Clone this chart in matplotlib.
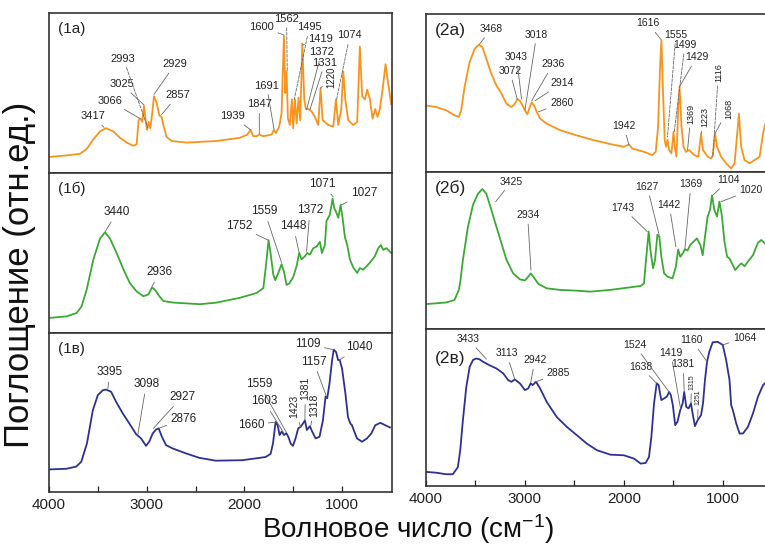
import matplotlib
matplotlib.use("Agg")
import matplotlib.pyplot as plt

plt.rcParams['font.family'] = ['Liberation Sans', 'DejaVu Sans']
plt.rcParams['mathtext.fontset'] = 'custom'
plt.rcParams['mathtext.rm'] = 'Liberation Sans'
plt.rcParams['mathtext.it'] = 'Liberation Sans:italic'

# ---------------- data: (wavenumber cm^-1, relative absorbance 0..100) ----------------
SPEC_1A = [(4000,10),(3820,11),(3683,12),(3615,15),(3546,21),(3478,26),(3417,28),(3342,26),(3274,22),(3205,19),
           (3137,17),(3103,18),(3083,33),(3062,34),(3045,32),(3028,42),(3011,33),(2997,27),(2980,32),(2963,28),
           (2946,36),(2926,48),(2899,44),(2871,36),(2847,35),(2830,30),(2796,22.5),(2745,20),(2592,19),(2285,20),
           (2046,22),(1971,24),(1937,27),(1910,23),(1876,23),(1848,24),(1807,23),(1722,24),(1698,27),(1678,25),
           (1644,29),(1620,37.5),(1596,86),(1582,50),(1569,63.5),(1555,34),(1535,30),(1514,46),(1501,28),(1483,46),
           (1466,31),(1446,47),(1429,33),(1408,81),(1388,46),(1371,40),(1344,40),(1313,38.5),(1279,35),(1245,30),
           (1221,53),(1200,33),(1142,30),(1091,29),(1064,46),(1040,30),(1009,40),(989,63.5),(968,46),(938,33),
           (887,30),(846,32),(819,79),(795,48),(767,46),(744,52),(716,46),(689,34),(662,40),(638,35),
           (614,40),(587,52),(556,68),(529,56),(498,43)]

SPEC_1B = [(4000,9.4),(3819,10.4),(3717,12.5),(3666,16.7),(3615,27),(3546,46),(3478,59),(3427,63),(3376,59),(3308,50),
           (3240,40),(3171,31),(3103,26),(3035,23),(2984,24),(2946,28.5),(2916,27),(2871,23),(2830,20),(2728,19),
           (2455,18),(2285,19),(2046,22),(1876,25),(1807,28),(1780,42),(1753,58),(1733,50),(1705,36.5),(1685,33),
           (1654,37.5),(1620,43),(1596,38.5),(1569,30),(1541,31),(1500,35),(1466,42),(1439,50),(1415,46),(1381,48),
           (1357,50),(1330,49),(1296,53),(1262,54),(1228,57),(1207,50),(1177,55),(1160,70),(1126,74),(1098,84),
           (1081,78),(1064,76),(1040,72),(1016,80),(996,72),(972,60),(948,55),(921,46),(887,41),(846,37.5),
           (819,40.6),(785,39.6),(750,41.7),(716,44),(665,48),(631,53),(604,55),(580,52),(546,53),(498,50)]

SPEC_1C = [(4000,14.2),(3823,14.6),(3721,16),(3670,19),(3612,30.5),(3551,51.5),(3500,61),(3449,64),(3415,64.4),(3364,63),
           (3313,56.7),(3245,49.4),(3177,43),(3109,36.4),(3058,33.7),(3007,29),(2973,31.8),(2939,36.8),(2905,39.3),(2878,40),
           (2844,34.7),(2803,29.5),(2735,27.4),(2599,24.3),(2463,21.5),(2293,19.7),(2021,20),(1783,22),(1732,24),(1708,30.5),
           (1681,44),(1660,42),(1640,35.8),(1619,38),(1595,35.8),(1571,37),(1551,34.7),(1527,30.5),(1504,29),(1477,33.7),
           (1450,40),(1426,41),(1402,43),(1381,45),(1361,39),(1330,41.4),(1306,37.9),(1272,33.7),(1232,34.7),(1197,45),
           (1170,60),(1153,59),(1130,68),(1103,83),(1086,89.5),(1062,88),(1042,83),(1025,83),(1001,77.6),(967,62),
           (940,47),(916,43),(899,42),(882,39),(848,33.7),(797,31.6),(746,33.7),(702,36.8),(661,42),(610,43.5),
           (559,42),(511,40.6)]

SPEC_2A = [(4000,42),(3898,41),(3797,39),(3712,35.8),(3668,34.7),(3644,39),(3610,53.7),(3559,69.5),(3508,78),(3464,80.6),
           (3430,79),(3390,71.6),(3339,62),(3288,54.7),(3237,49.5),(3186,43),(3136,41),(3102,43),(3078,46),(3051,45),
           (3024,42),(3000,39),(2976,36.4),(2956,40),(2932,44),(2908,42),(2881,38),(2847,33.7),(2780,30.5),(2644,26.3),
           (2475,23),(2305,20),(2136,17.5),(2000,15.8),(1949,17.3),(1915,14.7),(1797,12.6),(1712,10.5),(1678,12.6),(1654,28.4),
           (1634,66.3),(1620,83.6),(1607,55.8),(1587,20),(1573,15.8),(1559,20.4),(1542,13.7),(1519,11.6),(1498,25.3),(1485,15.8),
           (1468,9.5),(1451,39),(1437,54),(1417,28.4),(1397,15.8),(1373,12.6),(1339,13.7),(1288,10.5),(1247,9.5),(1220,24),
           (1200,13.7),(1152,9.5),(1118,8.4),(1101,10.5),(1078,24.2),(1058,15.8),(1017,9.5),(966,5.3),(915,2.1),(881,5.3),
           (854,24),(837,36.8),(814,15.8),(780,7.4),(729,5.3),(678,7.4),(627,9.5),(593,24.2),(570,30.5),(559,25)]

SPEC_2B = [(4000,16),(3898,16.5),(3797,17),(3712,18.6),(3668,25),(3654,30),(3627,44),(3576,65),(3525,79),(3475,86),
           (3430,89),(3390,86),(3339,75.7),(3288,65),(3237,54.5),(3186,44),(3119,35.5),(3051,31.7),(3000,31),(2966,33.4),
           (2942,35.5),(2915,33.4),(2864,28.8),(2780,26),(2644,25),(2475,24.5),(2339,23.9),(2136,25),(1966,26.4),(1830,27.5),
           (1797,29),(1776,44),(1749,62),(1729,49),(1705,38.7),(1685,44),(1661,60),(1641,58.8),(1621,46),(1593,35.5),
           (1559,33.4),(1508,32.3),(1474,39.7),(1451,50.7),(1430,46),(1406,48),(1383,50.7),(1356,50),(1329,53.5),(1295,55.6),
           (1261,57.7),(1227,53.5),(1203,47),(1180,58.8),(1153,71.5),(1129,75.7),(1109,85),(1085,75.7),(1058,71.5),(1034,81),
           (1010,72.5),(983,55.6),(956,46),(932,45),(908,41.9),(874,37.6),(847,39.7),(813,41.9),(780,40),(746,43),
           (695,47),(644,55),(610,56.7),(576,54.5),(559,54)]

SPEC_2C = [(4000,9),(3898,8.5),(3797,7.5),(3729,7.5),(3678,12),(3654,22.8),(3627,42),(3593,63),(3559,76),(3525,80.4),
           (3492,81.4),(3458,80.8),(3424,79.3),(3356,77),(3288,75),(3220,71.9),(3170,67.6),(3136,66.5),(3102,68),(3051,65.5),
           (3000,61.2),(2966,62.3),(2942,65.5),(2922,64.4),(2888,66.5),(2847,62.3),(2780,53.7),(2678,44),(2576,37.7),(2475,32.4),
           (2373,27),(2271,22.8),(2136,20),(2000,19.6),(1898,17.5),(1830,14.3),(1780,14.7),(1746,18.5),(1722,31.3),(1695,52.7),
           (1668,65.5),(1648,64.4),(1634,59),(1621,54.8),(1593,55.9),(1566,57),(1542,60),(1525,58),(1505,51.6),(1481,38.8),
           (1458,41),(1430,48.4),(1406,52.7),(1390,60),(1369,50.5),(1346,49.5),(1322,52.7),(1302,45.2),(1281,38.2),(1254,42),
           (1220,45.2),(1200,52.7),(1180,67.6),(1159,79.3),(1136,85.7),(1102,91.7),(1051,92),(1000,90),(966,80.4),(932,67.6),
           (915,51.6),(898,48.4),(864,39.9),(830,33.5),(796,33.5),(746,37.7),(695,46.3),(644,57),(593,64.4),(559,66.5)]

PEAKS_1A = [3417, 3066, 3025, 2993, 2929, 2857, 1939, 1847, 1691, 1600, 1562, 1495, 1419, 1372, 1331, 1220, 1074]
PEAKS_1B = [3440, 2936, 1752, 1559, 1448, 1372, 1071, 1027]
PEAKS_1C = [3395, 3098, 2927, 2876, 1559, 1603, 1660, 1423, 1381, 1318, 1157, 1109, 1040]
PEAKS_2A = [3468, 3072, 3043, 3018, 2936, 2914, 2860, 1942, 1616, 1555, 1499, 1429, 1369, 1223, 1116, 1068]
PEAKS_2B = [3425, 2934, 1743, 1627, 1442, 1369, 1104, 1020]
PEAKS_2C = [3433, 3113, 2942, 2885, 1638, 1524, 1419, 1381, 1315, 1251, 1160, 1064]

PANEL_NAMES = ["(1а)", "(1б)", "(1в)", "(2а)", "(2б)", "(2в)"]
X_TICKS = [4000, 3000, 2000, 1000]
X_MINOR = [3500, 2500, 1500]
Y_LABEL = "Поглощение (отн.ед.)"
X_LABEL = r"Волновое число (см$^{-1}$)"

# ---------------- layout: leader end, text centre, rotation, dashed ----------------
LAY_1A = [((3437,28.5),(3546,35.4),0,0), ((3069,34),(3376,45),0,0), ((3028,42.5),(3257,55.6),0,0),
          ((2987,28),(3240,71.5),0,1), ((2926,49),(2711,68),0,0), ((2847,36.5),(2684,48.5),0,0),
          ((1937,27),(2124,35.4),0,0), ((1848,24.6),(1848,43),0,0), ((1698,27.5),(1773,54.6),0,0),
          ((1603,86.5),(1824,91),0,0), ((1562,63.5),(1569,96.5),0,1), ((1490,46),(1337,91),0,1),
          ((1405,80),(1217,84),0,0), ((1364,39.6),(1211,75.6),0,0), ((1330,39.6),(1177,69),0,0),
          ((1221,53),(1115,60),90,0), ((1057,46),(921,86),0,1)]
LAY_1B = [((3423,63.5),(3304,75.6),0,0), ((2946,29),(2868,38),0,0), ((1756,58),(2056,66.7),0,0),
          ((1620,44),(1794,76),0,0), ((1439,50),(1500,66.7),0,0), ((1364,51),(1330,76.7),0,0),
          ((1091,85),(1200,93),0,0), ((1009,80),(774,87.5),0,0)]
LAY_1C = [((3398,65),(3378,75.5),0,0), ((3092,35.8),(3004,68),0,0), ((2932,40),(2636,60),0,0),
          ((2878,40),(2619,46),0,0), ((1571,37.5),(1851,68),0,0), ((1595,36.8),(1797,57),0,0),
          ((1681,44),(1933,42),0,0), ((1426,41),(1490,53.6),90,0), ((1381,45),(1378,65),90,0),
          ((1320,42),(1286,54.6),90,0), ((1160,60),(1293,82),0,0), ((1086,89.5),(1354,93),0,0),
          ((1029,83),(829,91),0,0)]
LAY_2A = [((3458,81),(3339,90.5),0,0), ((3078,46),(3153,64),0,0), ((3034,46),(3085,73),0,0),
          ((3000,39),(2881,87),0,0), ((2932,45),(2718,68),0,0), ((2898,45),(2627,56),0,0),
          ((2864,38),(2627,43.6),0,0), ((1949,17),(2000,29),0,0), ((1627,84),(1756,94),0,0),
          ((1559,22),(1474,87),0,1), ((1491,25),(1383,80.4),0,1), ((1430,54.7),(1264,72.6),0,0),
          ((1356,13.7),(1322,36.8),90,0), ((1220,24),(1186,34.7),90,0), ((1101,9.5),(1044,63),90,1),
          ((1078,24.2),(942,40),90,0)]
LAY_2B = [((3295,81),(3136,93.7),0,0), ((2939,37.6),(2973,72.5),0,0), ((1763,62),(2010,77),0,0),
          ((1644,60),(1763,90.5),0,0), ((1474,52.4),(1542,79),0,0), ((1383,51),(1322,92),0,0),
          ((1101,85),(942,94.7),0,0), ((1017,81),(712,88.4),0,0)]
LAY_2C = [((3390,81),(3576,93.8),0,0), ((3102,68),(3186,84.6),0,0), ((2942,66),(2898,80.4),0,0),
          ((2888,66.5),(2661,71.9),0,0), ((1668,65.5),(1830,76),0,0), ((1532,59),(1891,90),0,0),
          ((1427,49.5),(1525,85),0,0), ((1390,60),(1400,77.6),0,0), ((1322,52.7),(1315,66.5),90,0),
          ((1254,42),(1247,56.5),90,0), ((1159,79.3),(1312,93),0,0), ((1000,90),(780,94.7),0,0)]

ORANGE = '#F7941D'
GREEN = '#3AAA35'
BLUE = '#2E3192'

W, H = 765, 546
fig = plt.figure(figsize=(W/100, H/100), dpi=100)

def box(x0, y0, x1, y1):
    return [x0/W, 1 - y1/H, (x1 - x0)/W, (y1 - y0)/H]

panels = [
    (box(49, 13, 392, 173), SPEC_1A, PEAKS_1A, LAY_1A, ORANGE, (4000, 490), 8, 11, False),
    (box(49, 173, 392, 333), SPEC_1B, PEAKS_1B, LAY_1B, GREEN, (4000, 490), 8.5, 11, False),
    (box(49, 333, 392, 492), SPEC_1C, PEAKS_1C, LAY_1C, BLUE, (4000, 490), 8.5, 11, True),
    (box(426, 14, 767, 171.7), SPEC_2A, PEAKS_2A, LAY_2A, ORANGE, (4000, 553), 7.5, 12.5, False),
    (box(426, 171.7, 767, 329.3), SPEC_2B, PEAKS_2B, LAY_2B, GREEN, (4000, 553), 7.5, 12.5, False),
    (box(426, 329.3, 767, 486), SPEC_2C, PEAKS_2C, LAY_2C, BLUE, (4000, 553), 7.5, 12.5, True),
]

for i, (rect, spec, peaks, lay, color, xl, fs, nfs, bottom) in enumerate(panels):
    ax = fig.add_axes(rect)
    xs = [p[0] for p in spec]
    ys = [p[1] for p in spec]
    ax.plot(xs, ys, color=color, lw=1.3, solid_joinstyle='round')
    ax.set_xlim(*xl)
    ax.set_ylim(0, 100)
    ax.set_yticks([])
    for s in ax.spines.values():
        s.set_color('#333333')
        s.set_linewidth(1.2)
    if bottom:
        ax.set_xticks(X_TICKS)
        ax.set_xticks(X_MINOR, minor=True)
        ax.tick_params(axis='x', which='both', direction='in', length=4, width=0.9,
                       labelsize=11, pad=4, colors='#222222')
    else:
        ax.set_xticks([])
    ax.text(0.025, 0.945 if i != 5 else 0.86, PANEL_NAMES[i], transform=ax.transAxes,
            ha='left', va='top', fontsize=nfs, color='#222222')
    for pk, (xy, xt, rot, dash) in zip(peaks, lay):
        size = fs
        if rot:
            size = fs - 1
        if i == 5 and rot:
            size = 5
        ax.annotate(str(pk), xy=xy, xytext=xt, ha='center', va='center',
                    rotation=rot, fontsize=size, color='#222222',
                    arrowprops=dict(arrowstyle='-', color='#666666', lw=0.6,
                                    linestyle='--' if dash else '-',
                                    shrinkA=1, shrinkB=0))

fig.text(20/W, 1 - 275/H, Y_LABEL, rotation=90, ha='center', va='center', fontsize=25, color='#111111')
fig.text(408/W, 1 - 529/H, X_LABEL, ha='center', va='center', fontsize=20, color='#111111')

fig.savefig('out.png', dpi=100)
